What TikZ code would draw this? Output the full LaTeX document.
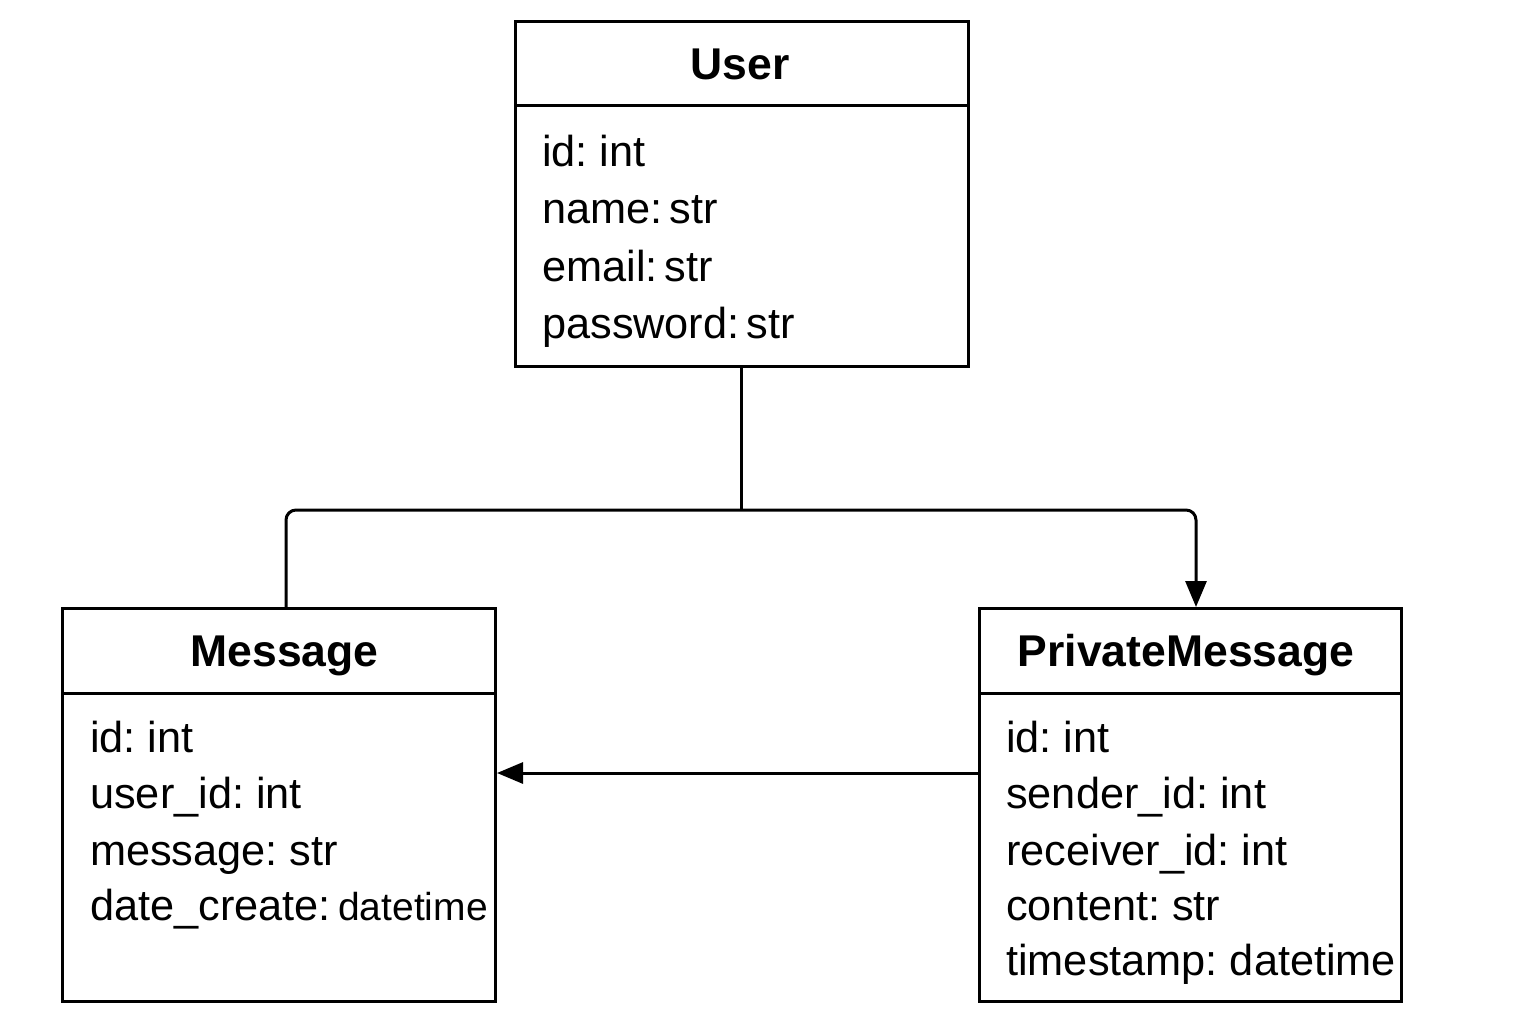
\documentclass[tikz,border=0pt]{standalone}
\usepackage{fontspec}
\setmainfont{Liberation Sans}
\usetikzlibrary{arrows.meta,calc}
\frenchspacing
\begin{document}
\begin{tikzpicture}[x=1pt,y=-1pt,
 box/.style={draw, line width=3pt, rectangle, inner sep=0pt, outer sep=0pt, anchor=north west},
 ttl/.style={font=\fontsize{44.5}{50}\selectfont\bfseries, anchor=base, inner sep=0pt},
 attr/.style={font=\fontsize{43.3}{50}\selectfont, anchor=base west, inner sep=0pt},
 divider/.style={line width=3pt},
 conn/.style={line width=3pt, rounded corners=10pt},
 tip/.style={-{Triangle[length=26pt,width=21pt]}}]
\useasboundingbox[fill=white] (0,0) rectangle (1536,1024);
% User
\node[box, minimum width=453pt, minimum height=344pt] (user) at (515,22) {};
\draw[divider] ($(user.north west)+(0,84)$) -- ($(user.north east)+(0,84)$);
\node[ttl] (usert) at (740,80) {User};
\node[attr] (u1) at (542,167) {id: int};
\node[attr] (u2) at (542,224) {name:\,str};
\node[attr] (u3) at (542,281) {email:\,str};
\node[attr] (u4) at (542,338) {password:\,str};
% Message
\node[box, minimum width=433pt, minimum height=393pt] (msg) at (62,608) {};
\draw[divider] ($(msg.north west)+(0,85)$) -- ($(msg.north east)+(0,85)$);
\node[ttl] (msgt) at (284.5,666) {Message};
\node[attr] (m1) at (90,752) {id: int};
\node[attr] (m2) at (90,808) {user\_id: int};
\node[attr] (m3) at (90,865) {message: str};
\node[attr] (m4) at (90,920) {date\_create:\,{\fontsize{39}{45}\selectfont datetime}};
% PrivateMessage
\node[box, minimum width=422pt, minimum height=393pt] (pm) at (979,608) {};
\draw[divider] ($(pm.north west)+(0,85)$) -- ($(pm.north east)+(0,85)$);
\node[ttl] (pmt) at (1186,666) {PrivateMessage};
\node[attr] (p1) at (1006,752) {id: int};
\node[attr] (p2) at (1006,808) {sender\_id: int};
\node[attr] (p3) at (1006,865) {receiver\_id: int};
\node[attr] (p4) at (1006,920) {content: str};
\node[attr] (p5) at (1006,975) {timestamp: datetime};
% connectors
\coordinate (j) at ($(user.south)+(0,144)$);
\draw[conn] (user.south) -- (j);
\draw[conn, tip] ($(msg.north west)+(224,0)$) |- (j) -| ($(pm.north west)+(217,-1)$);
\draw[conn, tip] ($(pm.north west)+(0,165)$) -- ($(msg.north east)+(2,165)$);
\end{tikzpicture}
\end{document}
